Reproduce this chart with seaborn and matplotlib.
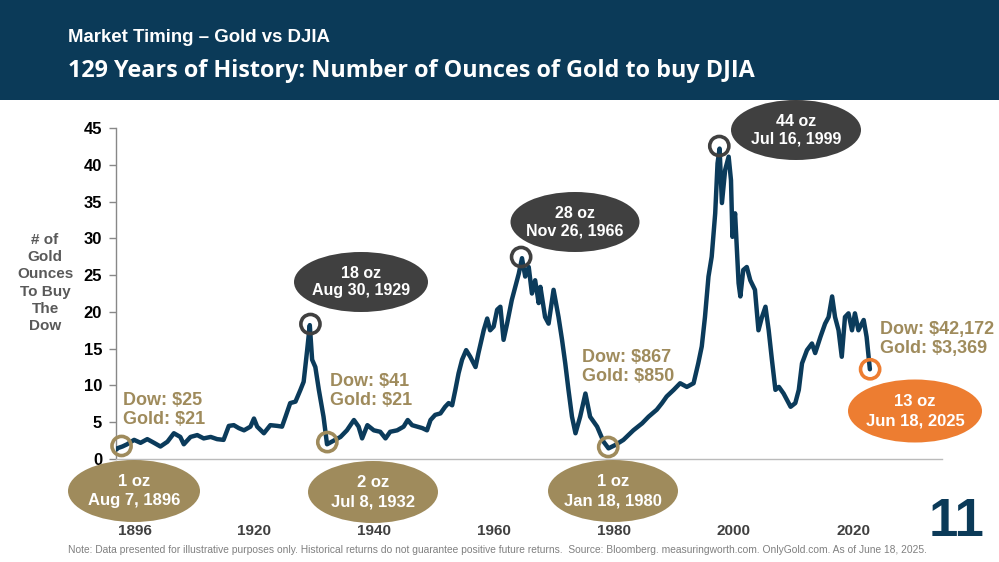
import numpy as np
import pandas as pd
import matplotlib
matplotlib.use("Agg")
import matplotlib.pyplot as plt
import seaborn as sns
from matplotlib.patches import Ellipse, Rectangle

# ---------------- data ----------------
years = [1896.6, 1896.7, 1897.6, 1898.4, 1899.6, 1900.7, 1901.85, 1903.0, 1904.1, 1905.3,
         1906.4, 1907.5, 1908.1, 1909.25, 1910.4, 1911.5, 1912.7, 1913.8, 1914.9, 1915.8,
         1916.65, 1917.5, 1918.4, 1919.5, 1920.1, 1920.65, 1921.8, 1922.9, 1924.1, 1924.9,
         1925.5, 1926.3, 1927.2, 1928.05, 1928.6, 1929.2, 1929.65, 1930.05, 1930.6, 1931.2,
         1932.0, 1932.6, 1934.0, 1934.9, 1936.0, 1937.2, 1938.0, 1938.6, 1939.5, 1940.6,
         1941.7, 1942.6, 1943.4, 1944.6, 1945.7, 1946.4, 1947.15, 1948.0, 1948.9, 1949.7,
         1950.3, 1951.1, 1952.0, 1952.8, 1953.4, 1954.0, 1954.55, 1955.1, 1955.7, 1956.4,
         1957.1, 1958.0, 1958.5, 1959.4, 1960.0, 1960.5, 1961.1, 1961.7, 1962.25, 1962.8,
         1963.4, 1964.2, 1964.8, 1965.4, 1965.95, 1966.5, 1967.1, 1967.65, 1968.2, 1968.8,
         1969.1, 1969.9, 1970.5, 1971.35, 1972.2, 1972.8, 1973.35, 1973.9, 1974.5, 1975.1,
         1975.9, 1976.8, 1977.6, 1978.8, 1979.9, 1980.75, 1981.9, 1983.3, 1985.0, 1986.5,
         1987.6, 1989.0, 1989.9, 1990.7, 1991.9, 1993.0, 1994.15, 1995.3, 1996.1, 1996.7,
         1997.25, 1997.85, 1998.4, 1999.0, 1999.4, 1999.75, 2000.15, 2000.7, 2001.3, 2001.7,
         2001.95, 2002.4, 2003.0, 2003.3, 2003.8, 2004.4, 2005.0, 2005.8, 2006.4, 2007.0,
         2007.6, 2008.15, 2008.7, 2009.3, 2009.9, 2010.7, 2011.9, 2012.7, 2013.3, 2013.85,
         2014.7, 2015.55, 2016.1, 2017.0, 2017.8, 2018.4, 2019.0, 2019.5, 2020.1, 2020.65,
         2021.2, 2021.8, 2022.4, 2022.9, 2023.5, 2024.4, 2024.9, 2025.46]
ounces = [1.3, 1.45, 1.7, 2.0, 2.6, 2.2, 2.7, 2.2, 1.7, 2.35,
          3.5, 3.0, 2.0, 3.0, 3.25, 2.8, 3.0, 2.7, 2.6, 4.5,
          4.6, 4.2, 3.9, 4.4, 5.5, 4.4, 3.5, 4.6, 4.5, 4.4,
          5.75, 7.6, 7.8, 9.4, 10.5, 14.8, 18.2, 13.5, 12.5, 9.4,
          5.75, 2.0, 2.6, 3.0, 3.9, 5.3, 4.4, 2.8, 4.6, 3.9,
          3.7, 2.8, 3.7, 3.9, 4.4, 5.3, 4.6, 4.4, 4.2, 3.9,
          5.3, 6.0, 6.2, 7.1, 7.6, 7.3, 9.4, 11.65, 13.5, 14.8,
          13.9, 12.5, 14.4, 17.5, 19.1, 17.5, 18.0, 20.3, 20.7, 16.2,
          18.4, 21.6, 23.4, 25.2, 27.3, 24.8, 26.1, 22.5, 24.3, 21.2,
          23.4, 19.3, 18.4, 23.0, 19.3, 16.2, 13.0, 9.4, 5.75, 3.5,
          5.75, 8.9, 5.75, 4.4, 2.35, 1.45, 1.9, 2.6, 3.9, 4.85,
          5.75, 6.7, 7.6, 8.5, 9.4, 10.3, 9.8, 10.3, 13.0, 15.3,
          19.3, 24.8, 27.5, 33.4, 40.2, 42.2, 34.8, 39.3, 41.1, 37.9,
          30.2, 33.4, 23.9, 22.1, 25.7, 26.1, 24.3, 23.0, 17.5, 19.3,
          20.7, 17.5, 13.5, 9.4, 9.8, 8.9, 7.1, 7.6, 9.4, 13.0,
          14.8, 15.7, 14.4, 16.6, 18.4, 19.3, 22.1, 19.3, 17.5, 13.9,
          19.3, 19.8, 17.5, 19.8, 17.5, 18.9, 16.6, 12.2]

event_years = [1897.45, 1929.76, 1932.65, 1965.8, 1980.7, 1999.7, 2025.5]
event_values = [1.77, 18.35, 2.3, 27.46, 1.63, 42.55, 12.2]
event_kinds = ["low", "peak", "low", "peak", "low", "peak", "now"]
event_labels = ["1 oz\nAug 7, 1896", "18 oz\nAug 30, 1929", "2 oz\nJul 8, 1932",
                "28 oz\nNov 26, 1966", "1 oz\nJan 18, 1980", "44 oz\nJul 16, 1999",
                "13 oz\nJun 18, 2025"]
price_labels = ["Dow: $25\nGold: $21", None, "Dow: $41\nGold: $21", None,
                "Dow: $867\nGold: $850", None, "Dow: $42,172\nGold: $3,369"]

x_tick_labels = ["1896", "1920", "1940", "1960", "1980", "2000", "2020"]
y_ticks = [0, 5, 10, 15, 20, 25, 30, 35, 40, 45]

title_small = "Market Timing \u2013 Gold vs DJIA"
title_big = "129 Years of History: Number of Ounces of Gold to buy DJIA"
y_label = "# of\nGold\nOunces\nTo Buy\nThe\nDow"
note = ("Note: Data presented for illustrative purposes only. Historical returns do not guarantee "
        "positive future returns.  Source: Bloomberg. measuringworth.com. OnlyGold.com. As of June 18, 2025.")
page_no = "11"

# ---------------- style ----------------
sns.set_theme(style="white")
plt.rcParams["font.family"] = ["Liberation Sans", "DejaVu Sans"]

NAVY = "#0b3a58"
LINE = "#0b3b5b"
DARK = "#404040"
GOLD = "#9f8b5c"
ORANGE = "#ed7d31"

W, H = 999, 562
fig = plt.figure(figsize=(W / 100, H / 100), dpi=100)
fig.patch.set_facecolor("white")

def fx(px):
    return px / W

def fy(py):
    return 1 - py / H

# header band
fig.add_artist(Rectangle((0, fy(100)), 1, 100 / H, transform=fig.transFigure,
                         facecolor=NAVY, edgecolor="none", zorder=0))
fig.text(fx(68), fy(37), title_small, color="white", fontsize=13.4, fontweight="bold",
         ha="left", va="center")
fig.text(fx(68), fy(71), title_big, color="white", fontsize=16.8, fontweight="bold",
         ha="left", va="center", family=["Open Sans", "DejaVu Sans"])

# axes
left_px, right_px, top_px, bot_px = 116, 942, 128, 459
ax = fig.add_axes([fx(left_px), fy(bot_px), (right_px - left_px) / W, (bot_px - top_px) / H])
ax.set_facecolor("none")

df = pd.DataFrame({"year": years, "oz": ounces})
sns.lineplot(data=df, x="year", y="oz", ax=ax, color=LINE, linewidth=3.2, zorder=3)

ring_colors = {"low": GOLD, "peak": DARK, "now": ORANGE}
for yr, v, k in zip(event_years, event_values, event_kinds):
    ax.scatter([yr], [v], s=190, facecolors="none", edgecolors=ring_colors[k],
               linewidths=2.6, zorder=5, clip_on=False)

px_per_year = 5.85
ax.set_xlim(1896.5, 1896.6 + (right_px - left_px) / px_per_year)
ax.set_ylim(0, 45)
ax.set_yticks(y_ticks)
ax.set_yticklabels([str(t) for t in y_ticks], fontsize=12, fontweight="bold", color="black")
ax.tick_params(axis="y", length=5, width=1, color="#888888", pad=5, left=True)
tick_pos = np.linspace(1899.7, 2022.6, len(x_tick_labels))
ax.set_xticks(tick_pos)
ax.set_xticklabels(x_tick_labels, fontsize=11, fontweight="bold", color="#404040")
ax.tick_params(axis="x", length=0, pad=47)
ax.set_xlabel("")
ax.set_ylabel("")
for s in ["top", "right"]:
    ax.spines[s].set_visible(False)
ax.spines["left"].set_color("#888888")
ax.spines["left"].set_linewidth(1)
ax.spines["bottom"].set_color("#bbbbbb")
ax.spines["bottom"].set_linewidth(1)
ax.grid(False)

fig.text(fx(45), fy(283), y_label, ha="center", va="center", fontsize=11,
         fontweight="bold", color="#595959", linespacing=1.3)

# event bubbles (layout in pixel positions)
bubble_pos = [(134, 491, 132, 62), (361, 282, 134, 60), (373, 492, 130, 62),
              (575, 222, 129, 60), (613, 491, 130, 62), (796, 130, 130, 60),
              (915, 411, 134, 63)]
bubble_colors = {"low": GOLD, "peak": DARK, "now": ORANGE}
for (cx, cy, w, h), lab, k in zip(bubble_pos, event_labels, event_kinds):
    fig.add_artist(Ellipse((fx(cx), fy(cy)), w / W, h / H, transform=fig.transFigure,
                           facecolor=bubble_colors[k], edgecolor="none", zorder=6))
    fs = 11.5 if k == "peak" else 12
    ls = 1.25 if k == "peak" else 1.4
    fig.text(fx(cx), fy(cy), lab, ha="center", va="center", color="white",
             fontsize=fs, fontweight="bold", linespacing=ls, zorder=7)

price_pos = [(123, 410), None, (330, 391), None, (582, 367), None, (880, 339)]
for pos, lab in zip(price_pos, price_labels):
    if lab is None:
        continue
    fig.text(fx(pos[0]), fy(pos[1]), lab, ha="left", va="center", color=GOLD,
             fontsize=13, fontweight="bold", linespacing=1.15, zorder=7)

fig.text(fx(957), fy(522), page_no, ha="center", va="center", color=NAVY,
         fontsize=38, fontweight="bold")
fig.text(fx(68), fy(550), note, ha="left", va="center", color="#808080", fontsize=7.35)

fig.savefig("out.png", dpi=100)
